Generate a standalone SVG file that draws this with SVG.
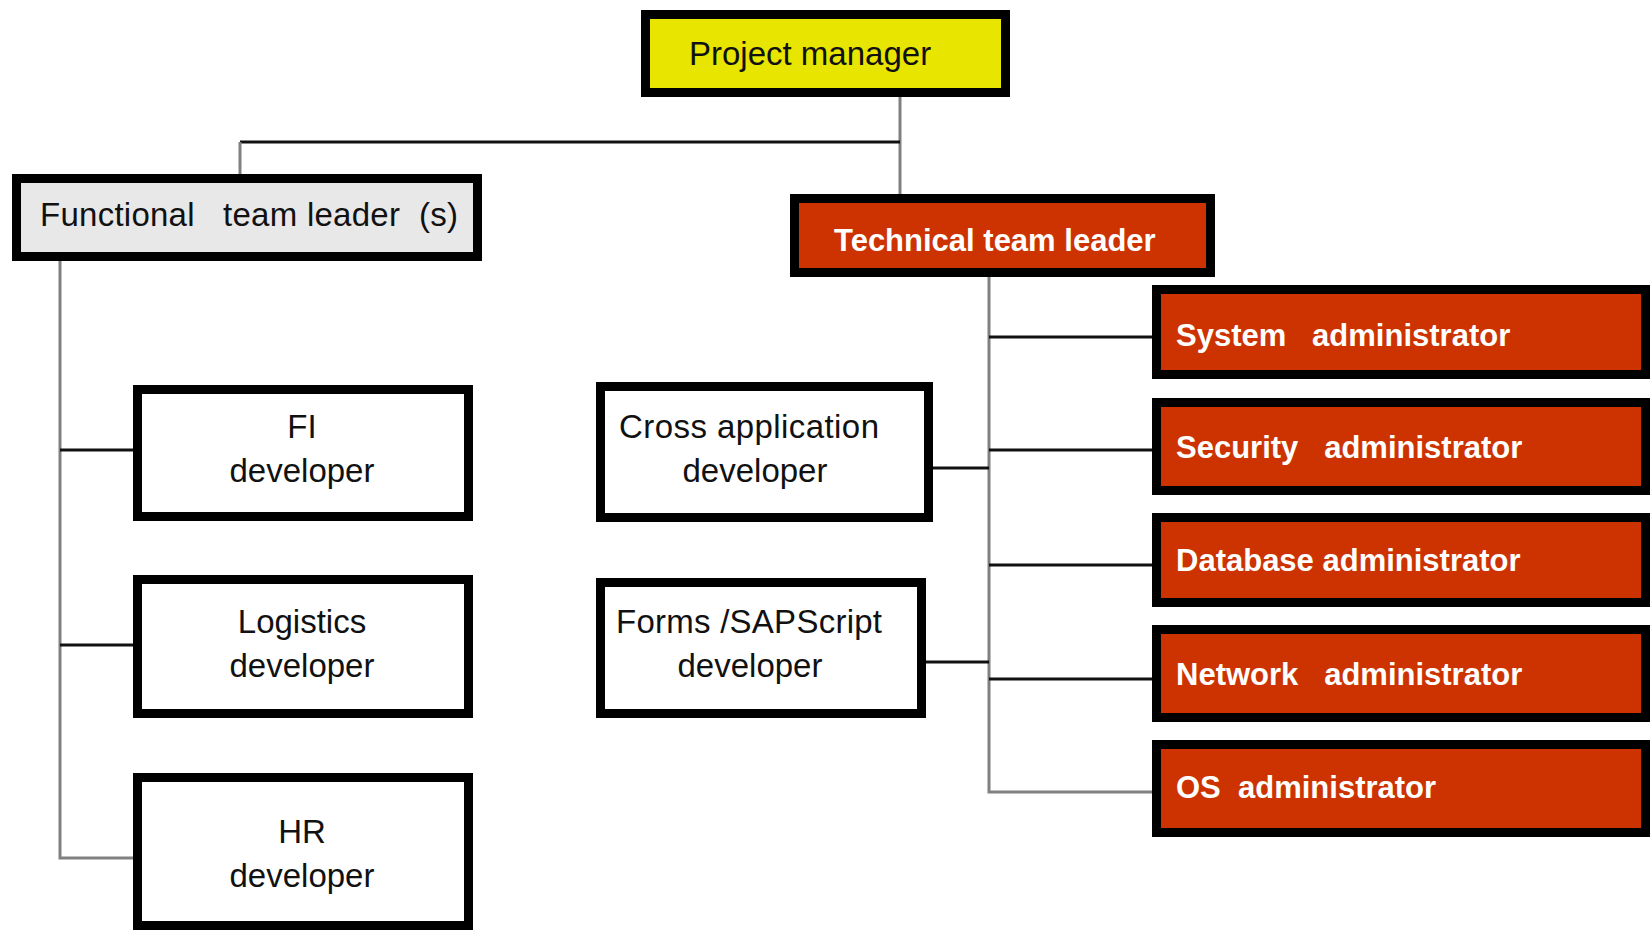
<svg xmlns="http://www.w3.org/2000/svg" width="1650" height="930" viewBox="0 0 1650 930">
<style>
.box{stroke:#000;stroke-width:9}
.pm{fill:#E8E500}
.fn{fill:#E8E8E8}
.dev{fill:#fff}
.red{fill:#CC3300}
.t{font-family:"Liberation Sans",Arial,sans-serif;font-size:33px;fill:#111;white-space:pre}
.w{font-family:"Liberation Sans",Arial,sans-serif;font-size:31px;font-weight:bold;fill:#fff;white-space:pre}
.m{text-anchor:middle}
.v{stroke:#808080;stroke-width:3;fill:none}
.h{stroke:#111;stroke-width:3;fill:none}
</style>
<rect width="1650" height="930" fill="#fff"/>
<g id="connectors">
<path class="v" d="M900 97V194"/>
<path class="h" d="M240 142H900"/>
<path class="v" d="M240 142V174"/>
<path class="v" d="M60 261V858H133"/>
<path class="h" d="M60 450H133"/>
<path class="h" d="M60 645H133"/>
<path class="v" d="M989 277V792H1152"/>
<path class="h" d="M989 337H1152"/>
<path class="h" d="M989 450H1152"/>
<path class="h" d="M989 565H1152"/>
<path class="h" d="M989 679H1152"/>
<path class="h" d="M933 468H989"/>
<path class="h" d="M926 662H989"/>
</g>
<g id="project-manager">
<rect class="box pm" x="645.5" y="14.5" width="360" height="78"/>
<text class="t" x="689" y="65">Project manager</text>
</g>
<g id="functional-team-leader">
<rect class="box fn" x="16.5" y="178.5" width="461" height="78"/>
<text class="t" x="40" y="226" xml:space="preserve" textLength="418">Functional   team leader  (s)</text>
</g>
<g id="technical-team-leader">
<rect class="box red" x="794.5" y="198.5" width="416" height="74"/>
<text class="w" x="834" y="251">Technical team leader</text>
</g>
<g id="fi-developer">
<rect class="box dev" x="137.5" y="389.5" width="331" height="127"/>
<text class="t m" x="302" y="438">FI</text>
<text class="t m" x="302" y="482">developer</text>
</g>
<g id="logistics-developer">
<rect class="box dev" x="137.5" y="579.5" width="331" height="134"/>
<text class="t m" x="302" y="633">Logistics</text>
<text class="t m" x="302" y="677">developer</text>
</g>
<g id="hr-developer">
<rect class="box dev" x="137.5" y="777.5" width="331" height="148"/>
<text class="t m" x="302" y="843">HR</text>
<text class="t m" x="302" y="887">developer</text>
</g>
<g id="cross-application-developer">
<rect class="box dev" x="600.5" y="386.5" width="328" height="131"/>
<text class="t" x="619" y="438" textLength="260">Cross application</text>
<text class="t m" x="755" y="482">developer</text>
</g>
<g id="forms-sapscript-developer">
<rect class="box dev" x="600.5" y="582.5" width="321" height="131"/>
<text class="t" x="616" y="633" textLength="266">Forms /SAPScript</text>
<text class="t m" x="750" y="677">developer</text>
</g>
<g id="system-administrator">
<rect class="box red" x="1156.5" y="289.5" width="489" height="85"/>
<text class="w" x="1176" y="346" xml:space="preserve">System   administrator</text>
</g>
<g id="security-administrator">
<rect class="box red" x="1156.5" y="402.5" width="489" height="88"/>
<text class="w" x="1176" y="458" xml:space="preserve">Security   administrator</text>
</g>
<g id="database-administrator">
<rect class="box red" x="1156.5" y="517.5" width="489" height="85"/>
<text class="w" x="1176" y="571">Database administrator</text>
</g>
<g id="network-administrator">
<rect class="box red" x="1156.5" y="629.5" width="489" height="88"/>
<text class="w" x="1176" y="685" xml:space="preserve">Network   administrator</text>
</g>
<g id="os-administrator">
<rect class="box red" x="1156.5" y="744.5" width="489" height="88"/>
<text class="w" x="1176" y="798" xml:space="preserve">OS  administrator</text>
</g>
</svg>
